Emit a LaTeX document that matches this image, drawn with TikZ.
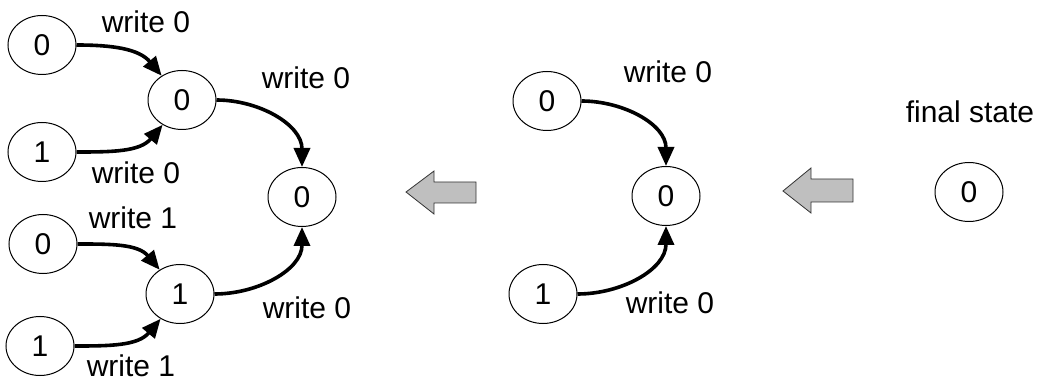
\documentclass[tikz,border=0pt]{standalone}
\usepackage{fontspec}
\setmainfont{Liberation Sans}
\usetikzlibrary{arrows.meta,shapes.geometric}
\begin{document}
\begin{tikzpicture}[x=1pt,y=-1pt,
  state/.style={draw,ellipse,line width=1pt,minimum width=68pt,minimum height=59pt,inner sep=0pt,font=\fontsize{30}{33}\selectfont},
  lbl/.style={inner sep=0pt,font=\fontsize{30}{33}\selectfont},
  conn/.style={line width=3.6pt,-{Triangle[length=19pt,width=16pt]}},
  bigarrow/.style={draw=black!80,fill=black!25,line width=0.8pt}]
\useasboundingbox (0,0) rectangle (1042,382);
% left tree
\node[state] (l1) at (42,45) {0};
\node[state] (l2) at (42,152) {1};
\node[state] (l3) at (43,244) {0};
\node[state] (l4) at (40,346) {1};
\node[state] (m1) at (182,100) {0};
\node[state] (m2) at (180,294) {1};
\node[state] (c) at (302,197) {0};
\node[lbl] (t1) at (146,22) {write 0};
\node[lbl] (t2) at (136,173) {write 0};
\node[lbl] (t3) at (306,78) {write 0};
\node[lbl] (t4) at (133,218) {write 1};
\node[lbl] (t5) at (131,366) {write 1};
\node[lbl] (t6) at (307,308) {write 0};
\draw[conn] (l1.east) to[out=0,in=130] (m1.130);
\draw[conn] (l2.east) to[out=0,in=230] (m1.232);
\draw[conn] (l3.east) to[out=0,in=130] (m2.130);
\draw[conn] (l4.east) to[out=0,in=230] (m2.232);
\draw[conn] (m1.east) to[out=0,in=90] (c.north);
\draw[conn] (m2.east) to[out=0,in=-90] (c.south);
% big arrows
\draw[bigarrow] (406,192) -- (434,171) -- (434,182) -- (476,182) -- (476,203) -- (434,203) -- (434,214) -- cycle;
\draw[bigarrow] (783,191) -- (811,168) -- (811,179) -- (853,179) -- (853,202) -- (811,202) -- (811,213) -- cycle;
% middle tree
\node[state] (r1) at (547,101) {0};
\node[state] (r2) at (543,294) {1};
\node[state] (rc) at (666,196) {0};
\node[lbl] (t7) at (668,72) {write 0};
\node[lbl] (t8) at (670,303) {write 0};
\draw[conn] (r1.east) to[out=0,in=90] (rc.north);
\draw[conn] (r2.east) to[out=0,in=-90] (rc.south);
% final
\node[state] (f) at (969,192) {0};
\node[lbl] (t9) at (970,112) {final state};
\end{tikzpicture}
\end{document}
